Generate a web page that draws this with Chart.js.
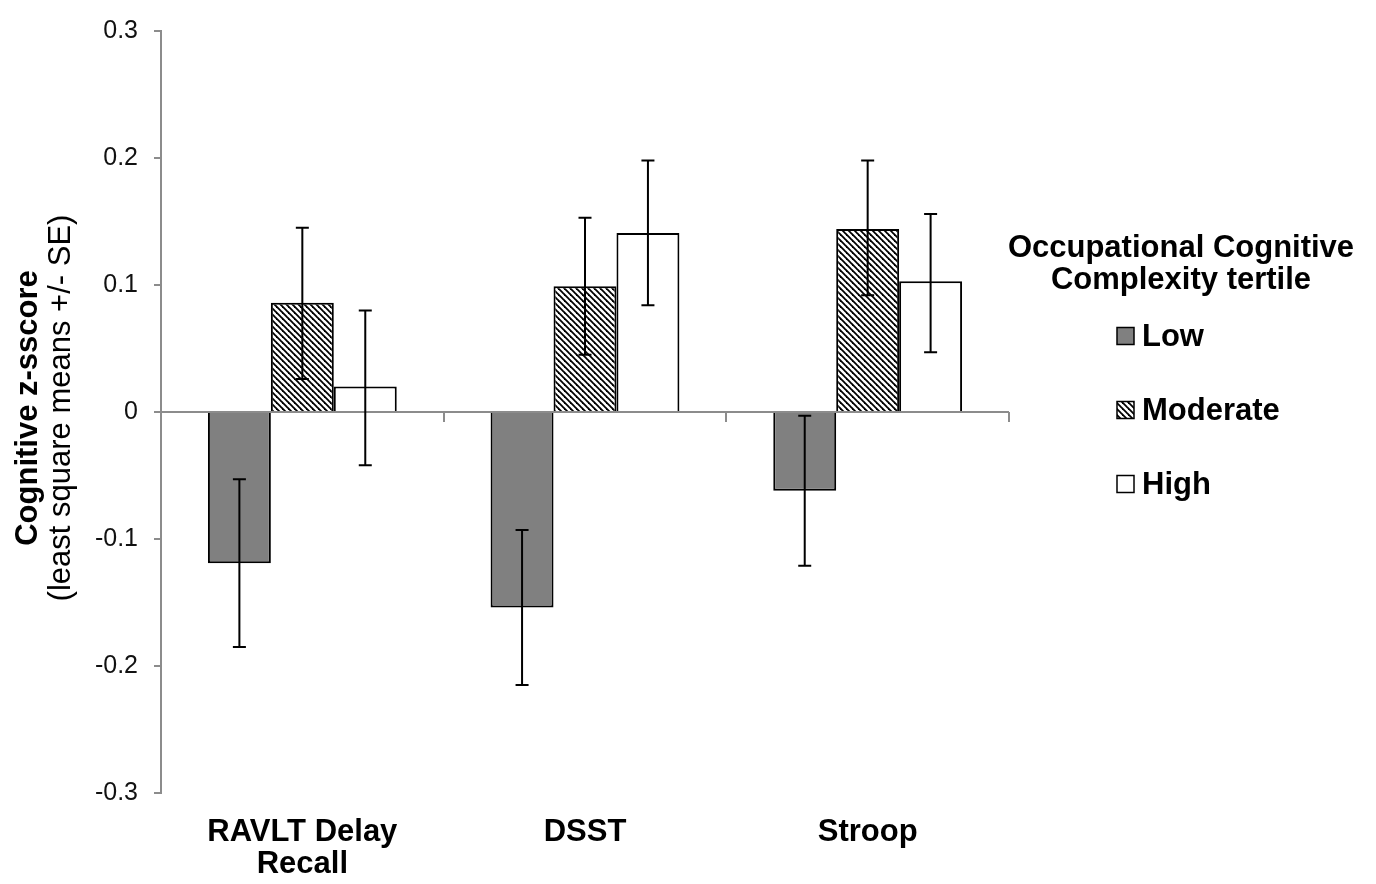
<!DOCTYPE html>
<html>
<head>
<meta charset="utf-8">
<script src="https://cdn.jsdelivr.net/npm/chart.js@4.4.1/dist/chart.umd.min.js"></script>
<style>
    html, body { margin: 0; padding: 0; background: #fff; }
    #wrap { width: 1376px; height: 884px; }
</style>
</head>
<body>
<div id="wrap"><canvas id="chartKognitif" width="1376" height="884"></canvas></div>
<script>
// data
var categories   = [['RAVLT Delay', 'Recall'], 'DSST', 'Stroop'];
var seriesNames  = ['Low', 'Moderate', 'High'];

var lowValues    = [-0.119, -0.154, -0.062];
var lowErrMin    = [-0.185, -0.215, -0.121];
var lowErrMax    = [-0.053, -0.093, -0.003];

var modValues    = [0.086, 0.099, 0.144];
var modErrMin    = [0.026, 0.045, 0.092];
var modErrMax    = [0.145, 0.153, 0.198];

var highValues   = [0.020, 0.141, 0.103];
var highErrMin   = [-0.042, 0.084, 0.047];
var highErrMax   = [0.080, 0.198, 0.156];

var yTickValues  = [-0.3, -0.2, -0.1, 0, 0.1, 0.2, 0.3];
var yTickLabels  = ['-0.3', '-0.2', '-0.1', '0', '0.1', '0.2', '0.3'];

var legendTitle  = ['Occupational Cognitive', 'Complexity tertile'];
var yTitleBold   = 'Cognitive z-sscore';
var yTitleNormal = '(least square means +/- SE)';

var FONT      = '"Liberation Sans", Arial, sans-serif';
var AXIS_GRAY = '#8c8c8c';

var canvas = document.getElementById('chartKognitif');
var ctx    = canvas.getContext('2d');

function makeHatch() {
    var s = 6;
    var c = document.createElement('canvas');
    c.width = s;
    c.height = s;
    var g = c.getContext('2d');
    g.fillStyle = '#fff';
    g.fillRect(0, 0, s, s);
    g.strokeStyle = '#000';
    g.lineWidth = 1.8;
    for (var k = -1; k <= 1; k++) {
        g.beginPath();
        g.moveTo(-2, -2 + k * s);
        g.lineTo(s + 2, s + 2 + k * s);
        g.stroke();
    }
    return ctx.createPattern(c, 'repeat');
}

// error bars on top of the bars
var errorBars = {
    id: 'errorBars',
    afterDatasetsDraw: function (chart) {
        var c = chart.ctx;
        var y = chart.scales.y;
        c.save();
        c.strokeStyle = '#000';
        c.lineWidth = 2;
        chart.data.datasets.forEach(function (ds, d) {
            var meta = chart.getDatasetMeta(d);
            meta.data.forEach(function (bar, i) {
                var yHi = y.getPixelForValue(ds.errMax[i]);
                var yLo = y.getPixelForValue(ds.errMin[i]);
                c.beginPath();
                c.moveTo(bar.x, yHi);
                c.lineTo(bar.x, yLo);
                c.moveTo(bar.x - 6.5, yHi);
                c.lineTo(bar.x + 6.5, yHi);
                c.moveTo(bar.x - 6.5, yLo);
                c.lineTo(bar.x + 6.5, yLo);
                c.stroke();
            });
        });
        c.restore();
    }
};

// tick marks on the zero line, y title, legend
var extras = {
    id: 'extras',
    beforeDatasetsDraw: function (chart) {
        var c = chart.ctx;
        var x = chart.scales.x;
        var y0 = chart.scales.y.getPixelForValue(0);
        c.save();
        c.strokeStyle = AXIS_GRAY;
        c.lineWidth = 2;
        for (var i = 1; i <= categories.length; i++) {
            var px = Math.round(x.getPixelForValue(i - 0.5));
            c.beginPath();
            c.moveTo(px, y0);
            c.lineTo(px, y0 + 10);
            c.stroke();
        }
        c.restore();
    },
    afterDraw: function (chart) {
        var c = chart.ctx;
        var ca = chart.chartArea;
        var midY = (ca.top + ca.bottom) / 2;

        c.save();
        c.fillStyle = '#000';
        c.textAlign = 'center';
        c.textBaseline = 'middle';
        c.translate(28, midY - 4);
        c.rotate(-Math.PI / 2);
        c.font = 'bold 31px ' + FONT;
        c.fillText(yTitleBold, 0, 0);
        c.font = '31px ' + FONT;
        c.fillText(yTitleNormal, 0, 33);
        c.restore();

        c.save();
        c.fillStyle = '#000';
        c.font = 'bold 31px ' + FONT;
        c.textAlign = 'center';
        c.textBaseline = 'middle';
        legendTitle.forEach(function (t, i) {
            c.fillText(t, ca.right + 172, ca.top + 217 + i * 32);
        });
        chart.data.datasets.forEach(function (ds, i) {
            var cy = ca.top + 305 + i * 74;
            var bx = ca.right + 108;
            c.fillStyle = ds.backgroundColor;
            c.fillRect(bx, cy - 8.5, 17, 17);
            c.strokeStyle = '#000';
            c.lineWidth = 1.5;
            c.strokeRect(bx, cy - 8.5, 17, 17);
            c.fillStyle = '#000';
            c.textAlign = 'left';
            c.fillText(ds.label, bx + 25, cy + 1);
        });
        c.restore();
    }
};

new Chart(ctx, {
    type: 'bar',
    data: {
        labels: categories,
        datasets: [{
            label: seriesNames[0],
            data: lowValues,
            errMin: lowErrMin,
            errMax: lowErrMax,
            backgroundColor: '#808080',
            borderColor: '#000',
            borderWidth: 2
        }, {
            label: seriesNames[1],
            data: modValues,
            errMin: modErrMin,
            errMax: modErrMax,
            backgroundColor: makeHatch(),
            borderColor: '#000',
            borderWidth: 2
        }, {
            label: seriesNames[2],
            data: highValues,
            errMin: highErrMin,
            errMax: highErrMax,
            backgroundColor: '#ffffff',
            borderColor: '#000',
            borderWidth: 2
        }]
    },
    options: {
        responsive: false,
        animation: false,
        devicePixelRatio: 1,
        layout: { padding: { top: 24, right: 367, bottom: 0, left: 0 } },
        datasets: { bar: { categoryPercentage: 0.668, barPercentage: 1 } },
        plugins: {
            legend: { display: false },
            tooltip: { enabled: false },
            title: { display: false }
        },
        scales: {
            x: {
                grid: { display: false, drawTicks: false },
                border: { display: false },
                ticks: {
                    color: '#000',
                    font: { family: FONT, size: 31, weight: 'bold', lineHeight: 1.05 },
                    padding: 23,
                    maxRotation: 0,
                    autoSkip: false
                },
                afterFit: function (s) { s.height = 91; }
            },
            y: {
                min: -0.3,
                max: 0.3,
                afterBuildTicks: function (s) {
                    s.ticks = yTickValues.map(function (v) { return { value: v }; });
                },
                grid: {
                    color: function (c) {
                        return c.tick && c.tick.value === 0 ? AXIS_GRAY : 'rgba(0,0,0,0)';
                    },
                    lineWidth: 2,
                    tickColor: AXIS_GRAY,
                    tickLength: 7,
                    drawTicks: true
                },
                border: { display: true, color: AXIS_GRAY, width: 2 },
                ticks: {
                    color: '#111',
                    font: { family: FONT, size: 25 },
                    padding: 16,
                    callback: function (v) { return yTickLabels[yTickValues.indexOf(v)]; }
                },
                afterFit: function (s) { s.width = 161; }
            }
        }
    },
    plugins: [errorBars, extras]
});
</script>
</body>
</html>
